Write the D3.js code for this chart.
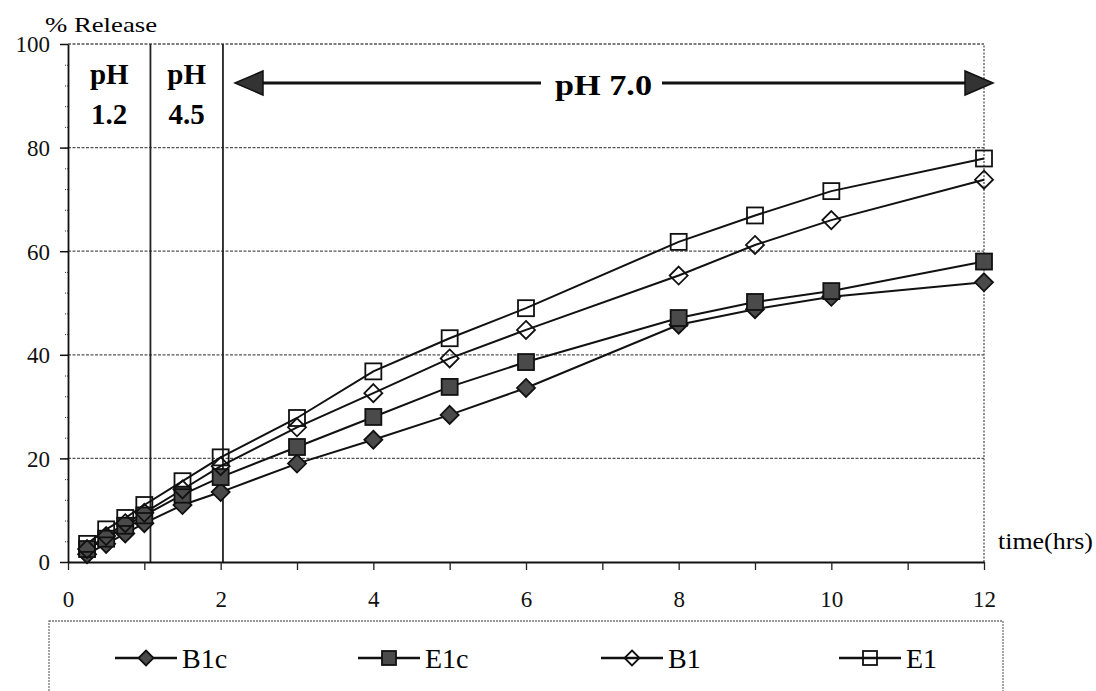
<!DOCTYPE html>
<html><head><meta charset="utf-8">
<script src="https://cdn.jsdelivr.net/npm/d3@7"></script>
</head><body style="margin:0;background:#fff"><svg id="c" width="1096" height="691" style="display:block;background:#fff"></svg>
<script>
const times = [0.25, 0.5, 0.75, 1, 1.5, 2, 3, 4, 5, 6, 8, 9, 10, 12];
const B1c = [1.5, 3.5, 5.5, 7.5, 11, 13.5, 19, 23.6, 28.4, 33.6, 45.8, 48.8, 51.2, 54];
const E1c = [2.5, 4.5, 7, 9, 13, 16.4, 22.2, 28, 33.8, 38.6, 47.1, 50.2, 52.3, 58];
const B1 = [2.5, 5, 7.5, 9.5, 14, 18.5, 26, 32.6, 39.3, 44.8, 55.3, 61.2, 66, 73.8];
const E1 = [3.5, 6.3, 8.5, 11, 15.6, 20.2, 27.8, 36.8, 43.2, 49, 61.8, 66.9, 71.6, 77.9];
const seriesNames = ["B1c", "E1c", "B1", "E1"];
const xTickLabels = [0, 2, 4, 6, 8, 10, 12];
const yTickLabels = [0, 20, 40, 60, 80, 100];
const phBoundaries = [1.08, 2.03];
const phLabels = [["pH", "1.2"], ["pH", "4.5"]];

const FONT = "Liberation Serif";
const series = [
  {name: seriesNames[0], values: B1c, shape: "diamond", fill: "#4a4a4a"},
  {name: seriesNames[1], values: E1c, shape: "square", fill: "#4a4a4a"},
  {name: seriesNames[2], values: B1, shape: "diamond", fill: "none"},
  {name: seriesNames[3], values: E1, shape: "square", fill: "none"}
];

const svg = d3.select("#c");
const x = d3.scaleLinear().domain([0, 12]).range([68, 984]);
const y = d3.scaleLinear().domain([0, 100]).range([562, 44]);

svg.append("g").selectAll("line").data(yTickLabels.filter(d => d > 0)).join("line")
  .attr("x1", x(0)).attr("x2", x(12)).attr("y1", d => y(d)).attr("y2", d => y(d))
  .attr("stroke", "#555").attr("stroke-width", 1.3).attr("stroke-dasharray", "3,1.5");
svg.append("line").attr("x1", x(12)).attr("x2", x(12)).attr("y1", y(0)).attr("y2", y(100))
  .attr("stroke", "#555").attr("stroke-width", 1.3).attr("stroke-dasharray", "2,1.5");

svg.append("g").selectAll("line").data(phBoundaries).join("line")
  .attr("x1", d => x(d)).attr("x2", d => x(d)).attr("y1", y(0)).attr("y2", y(100))
  .attr("stroke", "#222").attr("stroke-width", 1.8);

const yAxis = d3.axisLeft(y).tickValues(d3.range(0, 101, 4)).tickFormat("").tickSize(4).tickSizeOuter(0);
const yg = svg.append("g").attr("transform", `translate(${x(0)},0)`).call(yAxis);
yg.select(".domain").attr("stroke", "#111").attr("stroke-width", 1.8);
yg.selectAll(".tick line").attr("stroke", "#333").attr("stroke-dasharray", "1,1");
const yMajor = d3.axisLeft(y).tickValues(yTickLabels).tickFormat(d3.format("d")).tickSize(8).tickPadding(10);
const ym = svg.append("g").attr("transform", `translate(${x(0)},0)`).call(yMajor);
ym.select(".domain").remove();
ym.selectAll(".tick line").attr("stroke", "#111").attr("stroke-width", 1.5);
ym.selectAll(".tick text").style("font-size", "23px").attr("dy", "0.34em").attr("fill", "#111");

const xAxis = d3.axisBottom(x).tickValues(d3.range(0, 13, 1)).tickFormat("").tickSize(8).tickSizeOuter(0);
const xg = svg.append("g").attr("transform", `translate(0,${y(0)})`).call(xAxis);
xg.select(".domain").attr("stroke", "#111").attr("stroke-width", 1.8);
xg.selectAll(".tick line").attr("stroke", "#222").attr("stroke-width", 1.3);
const xLab = d3.axisBottom(x).tickValues(xTickLabels).tickFormat(d3.format("d")).tickSize(0).tickPadding(29);
const xl = svg.append("g").attr("transform", `translate(0,${y(0)})`).call(xLab);
xl.select(".domain").remove();
xl.selectAll(".tick text").style("font-size", "23px").attr("fill", "#111");

const line = d3.line().x((d, i) => x(times[i])).y(d => y(d));
svg.append("g").selectAll("path").data(series).join("path")
  .attr("d", s => line(s.values)).attr("fill", "none").attr("stroke", "#111").attr("stroke-width", 2);

function marker(g, shape, size, fill) {
  const h = size / 2;
  if (shape === "square") {
    g.append("rect").attr("x", -h).attr("y", -h).attr("width", size).attr("height", size)
      .attr("fill", fill).attr("stroke", "#111").attr("stroke-width", 1.8);
  } else {
    g.append("path").attr("d", `M0,${-h}L${h},0L0,${h}L${-h},0Z`)
      .attr("fill", fill).attr("stroke", "#111").attr("stroke-width", 1.8);
  }
}
series.forEach(s => {
  const g = svg.append("g");
  s.values.forEach((v, i) => {
    const m = g.append("g").attr("transform", `translate(${x(times[i])},${y(v)})`);
    marker(m, s.shape, s.shape === "square" ? 16 : 18, s.fill);
  });
});

svg.append("text").attr("x", 45).attr("y", 32).text("% Release")
  .style("font-size", "22px").attr("textLength", 112).attr("lengthAdjust", "spacingAndGlyphs");
svg.append("text").attr("x", 998).attr("y", 549).text("time(hrs)")
  .style("font-size", "23px").attr("textLength", 95).attr("lengthAdjust", "spacingAndGlyphs");

const phCenters = [(x(0) + x(phBoundaries[0])) / 2, (x(phBoundaries[0]) + x(phBoundaries[1])) / 2];
phLabels.forEach((lab, i) => {
  svg.append("text").attr("x", phCenters[i]).attr("y", 84).attr("text-anchor", "middle")
    .style("font-size", "29px").style("font-weight", "bold").text(lab[0]);
  svg.append("text").attr("x", phCenters[i]).attr("y", 124).attr("text-anchor", "middle")
    .style("font-size", "29px").style("font-weight", "bold").text(lab[1]);
});

const ay = 83;
svg.append("line").attr("x1", 258).attr("x2", 541).attr("y1", ay).attr("y2", ay).attr("stroke", "#111").attr("stroke-width", 3.2);
svg.append("line").attr("x1", 662).attr("x2", 968).attr("y1", ay).attr("y2", ay).attr("stroke", "#111").attr("stroke-width", 3.2);
svg.append("path").attr("d", `M235,${ay}L263,${ay - 12}L263,${ay + 12}Z`).attr("fill", "#333").attr("stroke", "#111").attr("stroke-width", 1.5);
svg.append("path").attr("d", `M993,${ay}L965,${ay - 12}L965,${ay + 12}Z`).attr("fill", "#333").attr("stroke", "#111").attr("stroke-width", 1.5);
svg.append("text").attr("x", 555).attr("y", 95).text("pH 7.0")
  .style("font-size", "29px").style("font-weight", "bold").attr("textLength", 97).attr("lengthAdjust", "spacingAndGlyphs");

svg.append("rect").attr("x", 49).attr("y", 621).attr("width", 954).attr("height", 80)
  .attr("fill", "none").attr("stroke", "#777").attr("stroke-width", 1.3).attr("stroke-dasharray", "2,1");
const legX = [115, 358, 601, 839];
const legY = 658;
series.forEach((s, i) => {
  const g = svg.append("g").attr("transform", `translate(${legX[i]},${legY})`);
  g.append("line").attr("x1", 0).attr("x2", 62).attr("stroke", "#111").attr("stroke-width", 2.5);
  const m = g.append("g").attr("transform", "translate(31,0)");
  marker(m, s.shape, s.shape === "square" ? 14 : 15, s.fill);
  g.append("text").attr("x", 67).attr("y", 10).text(s.name).style("font-size", "28px");
});

svg.selectAll("text").style("font-family", FONT).attr("font-family", FONT);
</script></body></html>
